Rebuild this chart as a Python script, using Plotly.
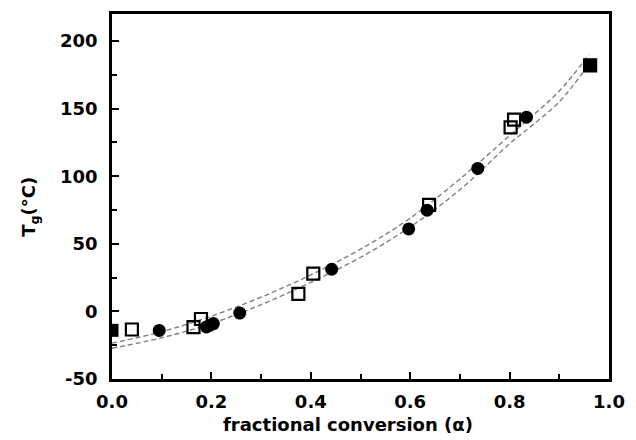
import plotly.graph_objects as go

# Filled circles
circ_x = [0.095, 0.190, 0.197, 0.204, 0.257, 0.442, 0.597, 0.634, 0.736, 0.834]
circ_y = [-14.1, -11.5, -10.2, -9.0, -1.2, 31.2, 61.0, 74.9, 105.8, 143.7]

# Open squares
osq_x = [0.040, 0.164, 0.179, 0.375, 0.405, 0.638, 0.802, 0.809, 0.962]
osq_y = [-13.4, -11.7, -5.6, 12.9, 28.0, 78.8, 136.1, 141.8, 182.0]

# Filled squares (end points)
fsq_x = [0.0, 0.962]
fsq_y = [-14.0, 182.0]

# Dashed fit curves
fit_x = [0.0, 0.1, 0.2, 0.3, 0.4, 0.5, 0.6, 0.7, 0.8, 0.85, 0.9, 0.96]
fit_upper = [-23.5, -15.0, -3.5, 10.5, 27.0, 46.0, 69.0, 98.0, 130.0, 146.0, 163.0, 190.0]
fit_lower = [-27.3, -19.5, -9.0, 5.0, 21.5, 40.0, 62.5, 90.0, 124.0, 139.0, 155.0, 183.0]

x_ticks = [0.0, 0.2, 0.4, 0.6, 0.8, 1.0]
x_ticklabels = ["0.0", "0.2", "0.4", "0.6", "0.8", "1.0"]
y_ticks = [-50, 0, 50, 100, 150, 200]
y_ticklabels = ["-50", "0", "50", "100", "150", "200"]

x_title = "fractional conversion (α)"
y_title = "T<sub>g</sub>(°C)"

FONT = "DejaVu Sans, Liberation Sans, Arial, sans-serif"
bold = dict(family=FONT, size=18, color="black", weight="bold")

fig = go.Figure()
dash_line = dict(color="#808080", width=1.4, dash="5px,3px")
fig.add_trace(go.Scatter(x=fit_x, y=fit_upper, mode="lines", line=dict(shape="spline", **dash_line), showlegend=False))
fig.add_trace(go.Scatter(x=fit_x, y=fit_lower, mode="lines", line=dict(shape="spline", **dash_line), showlegend=False))
fig.add_trace(go.Scatter(x=circ_x, y=circ_y, mode="markers",
                         marker=dict(symbol="circle", size=13, color="black", line=dict(width=0)),
                         showlegend=False))
fig.add_trace(go.Scatter(x=osq_x, y=osq_y, mode="markers",
                         marker=dict(symbol="square-open", size=12, color="black", line=dict(width=2.2)),
                         showlegend=False))
fig.add_trace(go.Scatter(x=fsq_x, y=fsq_y, mode="markers",
                         marker=dict(symbol="square", size=13, color="black", line=dict(width=0)),
                         showlegend=False))

fig.update_layout(
    width=636, height=440,
    margin=dict(l=112, r=23, t=11, b=61),
    paper_bgcolor="white", plot_bgcolor="white",
    font=bold,
    annotations=[
        dict(text=x_title, xref="paper", yref="paper", x=0.475, y=-0.125,
             xanchor="center", yanchor="middle", showarrow=False, font=bold),
        dict(text=y_title, xref="paper", yref="paper", x=-0.164, y=0.473,
             xanchor="center", yanchor="middle", showarrow=False, textangle=-90, font=bold),
    ],
)
fig.update_xaxes(
    range=[0, 1.0], tickvals=x_ticks, ticktext=x_ticklabels,
    ticks="inside", ticklen=7, tickwidth=2, tickcolor="black",
    minor=dict(tickvals=[0.1, 0.3, 0.5, 0.7, 0.9], ticks="inside", ticklen=5, tickwidth=2, tickcolor="black"),
    showline=True, linewidth=2.5, linecolor="black", mirror=True,
    showgrid=False, zeroline=False,
    tickfont=bold,
    ticklabelstandoff=5,
)
fig.update_yaxes(
    range=[-50, 220], tickvals=y_ticks, ticktext=y_ticklabels,
    ticks="inside", ticklen=7, tickwidth=2, tickcolor="black",
    minor=dict(tickvals=[-25, 25, 75, 125, 175], ticks="inside", ticklen=5, tickwidth=2, tickcolor="black"),
    showline=True, linewidth=2.5, linecolor="black", mirror=True,
    showgrid=False, zeroline=False,
    tickfont=bold,
    ticklabelstandoff=8,
)

fig.write_html("out.html")
